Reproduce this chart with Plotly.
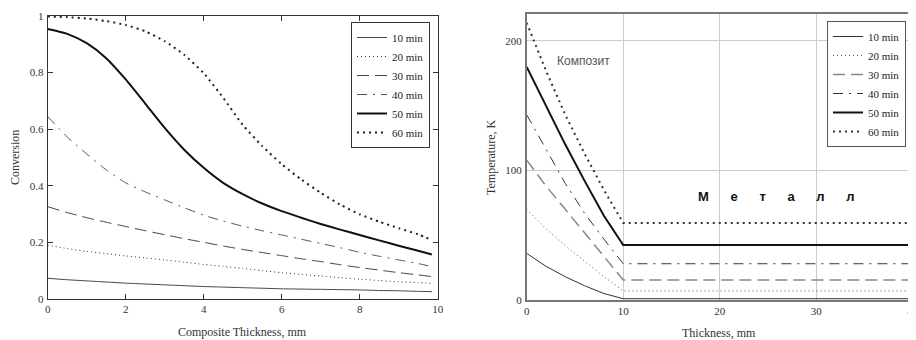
import plotly.graph_objects as go

# ---------------- data ----------------
series_names = ["10 min", "20 min", "30 min", "40 min", "50 min", "60 min"]

# Left chart: conversion vs composite thickness (mm)
x_comp = [0, 0.5, 1, 1.5, 2, 2.5, 3, 3.5, 4, 4.5, 5, 5.5, 6, 6.5, 7, 7.5, 8, 8.5, 9, 9.5, 9.85]
conv_10 = [0.073, 0.068, 0.064, 0.060, 0.056, 0.053, 0.050, 0.047, 0.044, 0.042, 0.040,
           0.038, 0.036, 0.035, 0.034, 0.033, 0.032, 0.030, 0.029, 0.027, 0.026]
conv_20 = [0.190, 0.178, 0.168, 0.160, 0.152, 0.145, 0.138, 0.130, 0.122, 0.115, 0.108,
           0.100, 0.093, 0.087, 0.081, 0.075, 0.070, 0.065, 0.061, 0.058, 0.055]
conv_30 = [0.326, 0.305, 0.287, 0.271, 0.256, 0.241, 0.227, 0.213, 0.200, 0.187, 0.175,
           0.164, 0.153, 0.142, 0.132, 0.121, 0.111, 0.102, 0.093, 0.085, 0.079]
conv_40 = [0.644, 0.572, 0.512, 0.456, 0.410, 0.378, 0.350, 0.322, 0.296, 0.275, 0.257,
           0.241, 0.226, 0.211, 0.196, 0.181, 0.165, 0.151, 0.138, 0.125, 0.114]
conv_50 = [0.953, 0.936, 0.903, 0.850, 0.775, 0.690, 0.604, 0.527, 0.463, 0.410, 0.370,
           0.337, 0.310, 0.287, 0.265, 0.245, 0.226, 0.207, 0.188, 0.170, 0.157]
conv_60 = [0.997, 0.995, 0.990, 0.981, 0.967, 0.945, 0.910, 0.862, 0.797, 0.710, 0.615,
           0.540, 0.476, 0.422, 0.375, 0.333, 0.299, 0.273, 0.250, 0.228, 0.208]
conv_series = [conv_10, conv_20, conv_30, conv_40, conv_50, conv_60]

# Right chart: temperature vs thickness (composite 0-10 mm, metal 10-40 mm)
x_thick = [0, 2, 4, 6, 8, 10, 40]
temp_10 = [36, 26, 18, 11, 5, 1, 1]
temp_20 = [70, 55, 42, 30, 18, 7, 7]
temp_30 = [108, 88, 70, 52, 34, 15.5, 15.5]
temp_40 = [143, 117, 90, 67, 47, 28, 28]
temp_50 = [180, 150, 120, 92, 65, 42.5, 42.5]
temp_60 = [214, 177, 143, 113, 85, 59.5, 59.5]
temp_series = [temp_10, temp_20, temp_30, temp_40, temp_50, temp_60]

left_xticks = [0, 2, 4, 6, 8, 10]
left_yticks = [0, 0.2, 0.4, 0.6, 0.8, 1]
left_yticklabels = ["0", "0.2", "0.4", "0.6", "0.8", "1"]
right_xticks = [0, 10, 20, 30, 40]
right_yticks = [0, 100, 200]

# ---------------- layout helpers ----------------
# page body has an 8px margin; figure is sized so that it ends at the window edge
W, H, OFF = 908, 332, 8


def px(xw):
    return (xw - OFF) / W


def py(yw):
    return (340 - yw) / H


# ---------------- styles ----------------
left_styles = [
    dict(color="#444444", width=1, dash="solid"),
    dict(color="#333333", width=1, dash="1px,3px"),
    dict(color="#444444", width=1, dash="12px,6px"),
    dict(color="#555555", width=1, dash="10px,6px,2px,6px"),
    dict(color="#111111", width=2, dash="solid"),
    dict(color="#222222", width=2, dash="2px,4px"),
]
right_styles = [
    dict(color="#333333", width=1, dash="solid"),
    dict(color="#555555", width=1, dash="1px,3px"),
    dict(color="#888888", width=1.5, dash="12px,6px"),
    dict(color="#333333", width=1, dash="10px,6px,2px,6px"),
    dict(color="#111111", width=2, dash="solid"),
    dict(color="#333333", width=2, dash="2px,4px"),
]

SERIF = "Liberation Serif, Times New Roman, serif"
SANS = "Liberation Sans, Arial, sans-serif"

fig = go.Figure()

for name, ys, st in zip(series_names, conv_series, left_styles):
    fig.add_trace(go.Scatter(
        x=x_comp, y=ys, mode="lines", name=name, line=dict(shape="spline", smoothing=0.6, **st),
        xaxis="x", yaxis="y", legend="legend"))

for name, ys, st in zip(series_names, temp_series, right_styles):
    fig.add_trace(go.Scatter(
        x=x_thick, y=ys, mode="lines", name=name, line=st,
        xaxis="x2", yaxis="y2", legend="legend2"))

tickfont = dict(family=SERIF, size=11, color="#333333")
legfont = dict(family=SERIF, size=11, color="#222222")
titlefont = dict(family=SERIF, size=12, color="#333333")

fig.update_layout(
    width=W, height=H,
    margin=dict(l=0, r=0, t=0, b=0, autoexpand=False),
    paper_bgcolor="white", plot_bgcolor="white",
    xaxis=dict(domain=[px(47.7), px(437.7)], range=[0, 10], tickvals=left_xticks, automargin=False,
               showgrid=False, zeroline=False, showline=True, linecolor="#333333", linewidth=1,
               mirror="ticks", ticks="inside", ticklen=5, tickcolor="#333333",
               tickfont=tickfont, anchor="y"),
    yaxis=dict(domain=[py(299), py(15.7)], range=[0, 1], tickvals=left_yticks, ticktext=left_yticklabels,
               automargin=False,
               showgrid=False, zeroline=False, showline=True, linecolor="#333333", linewidth=1,
               mirror="ticks", ticks="inside", ticklen=5, tickcolor="#333333",
               tickfont=tickfont, anchor="x", ticklabelstandoff=1),
    xaxis2=dict(domain=[px(526.7), px(912.7)], range=[0, 40], tickvals=right_xticks, automargin=False,
                showgrid=True, gridcolor="#cccccc", gridwidth=1, zeroline=False,
                showline=True, linecolor="#777777", linewidth=1.5, mirror=True, ticks="",
                ticklabeloverflow="allow",
                tickfont=tickfont, anchor="y2"),
    yaxis2=dict(domain=[py(300), py(14.3)], range=[0, 220.6], tickvals=right_yticks, automargin=False,
                showgrid=True, gridcolor="#cccccc", gridwidth=1, zeroline=False,
                showline=True, linecolor="#777777", linewidth=1.5, mirror=True, ticks="",
                tickfont=tickfont, anchor="x2", ticklabelstandoff=1),
    legend=dict(x=px(430), y=py(22), xanchor="right", yanchor="top",
                bgcolor="white", bordercolor="#333333", borderwidth=1,
                font=legfont, itemwidth=30, tracegroupgap=0),
    legend2=dict(x=px(906), y=py(21), xanchor="right", yanchor="top",
                 bgcolor="white", bordercolor="#555555", borderwidth=1,
                 font=legfont, itemwidth=30, tracegroupgap=0),
    annotations=[
        dict(text="Conversion", x=px(15), y=py(158), xref="paper", yref="paper",
             xanchor="center", yanchor="middle",
             textangle=-90, showarrow=False, font=titlefont),
        dict(text="Composite Thickness, mm", x=px(242), y=py(332), xref="paper", yref="paper",
             xanchor="center", yanchor="middle", showarrow=False, font=titlefont),
        dict(text="Temperature, K", x=px(491), y=py(158), xref="paper", yref="paper",
             xanchor="center", yanchor="middle",
             textangle=-90, showarrow=False, font=titlefont),
        dict(text="Thickness, mm", x=px(719), y=py(333), xref="paper", yref="paper",
             xanchor="center", yanchor="middle", showarrow=False, font=titlefont),
        dict(text="Композит", x=5.85, y=184.8, xref="x2", yref="y2", showarrow=False,
             font=dict(family=SANS, size=12, color="#555555")),
        dict(text="М\u00a0\u00a0\u00a0\u00a0\u00a0\u00a0е\u00a0\u00a0\u00a0\u00a0\u00a0\u00a0т\u00a0\u00a0\u00a0\u00a0\u00a0\u00a0а\u00a0\u00a0\u00a0\u00a0\u00a0\u00a0л\u00a0\u00a0\u00a0\u00a0\u00a0\u00a0л",
             x=25.9, y=79.8, xref="x2", yref="y2", showarrow=False,
             font=dict(family=SANS, size=13, color="#111111", weight="bold")),
    ],
)

fig.write_html("out.html")
